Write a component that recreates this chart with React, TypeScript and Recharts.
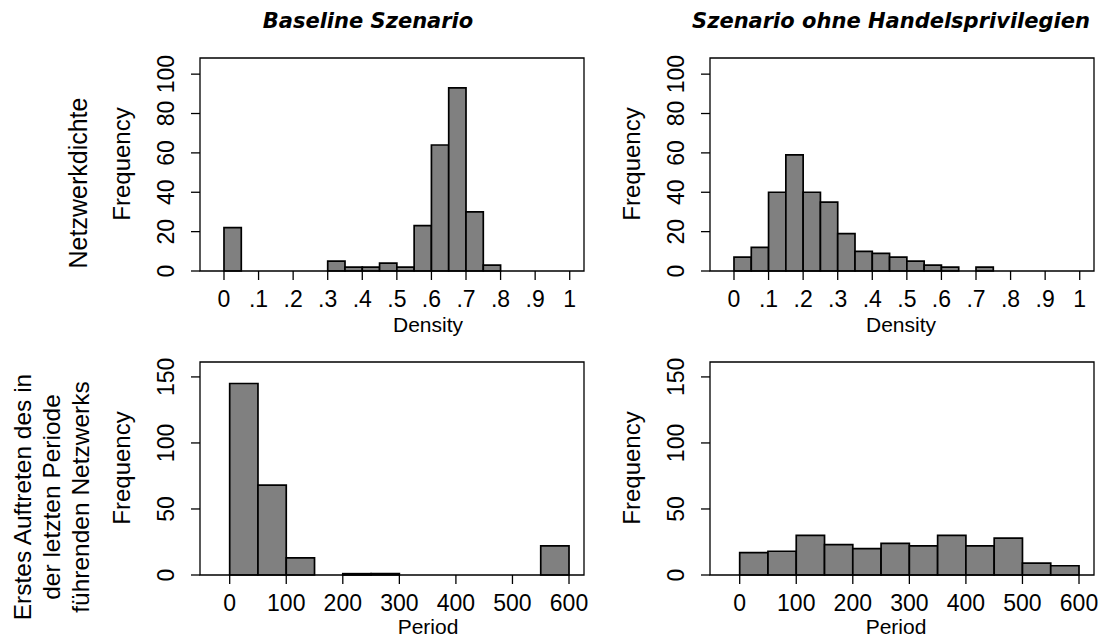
import React from "react";
import { ComposedChart, XAxis, YAxis, ReferenceArea } from "recharts";

// ---------- data ----------
const densityBinWidth = 0.05;
const periodBinWidth = 50;
const baselineDensityCounts = [22, 0, 0, 0, 0, 0, 5, 2, 2, 4, 2, 23, 64, 93, 30, 3];
const noPrivDensityCounts = [7, 12, 40, 59, 40, 35, 19, 10, 9, 7, 5, 3, 2, 0, 2];
const baselinePeriodCounts = [145, 68, 13, 0, 1, 1, 0, 0, 0, 0, 0, 22];
const noPrivPeriodCounts = [17, 18, 30, 23, 20, 24, 22, 30, 22, 28, 9, 7];

const densityTicks = [0, 0.1, 0.2, 0.3, 0.4, 0.5, 0.6, 0.7, 0.8, 0.9, 1];
const densityTickLabels = ["0", ".1", ".2", ".3", ".4", ".5", ".6", ".7", ".8", ".9", "1"];
const periodTicks = [0, 100, 200, 300, 400, 500, 600];
const periodTickLabels = ["0", "100", "200", "300", "400", "500", "600"];
const freqTicksTop = [0, 20, 40, 60, 80, 100];
const freqTicksBottom = [0, 50, 100, 150];

const densityDomain: [number, number] = [-0.0694, 1.0413];
const periodDomain: [number, number] = [-52.5, 626.5];
const freqDomainTop: [number, number] = [0, 108.2];
const freqDomainBottom: [number, number] = [0, 161.3];

const columnTitles = ["Baseline Szenario", "Szenario ohne Handelsprivilegien"];
const rowTitleTop = ["Netzwerkdichte"];
const rowTitleBottom = ["Erstes Auftreten des in", "der letzten Periode", "führenden Netzwerks"];
const xTitleTop = "Density";
const xTitleBottom = "Period";
const yTitle = "Frequency";

const makeBins = (counts: number[], w: number) =>
  counts.map((c, i) => ({ lo: i * w, hi: (i + 1) * w, mid: (i + 0.5) * w, count: c }));

const TICK_FONT = "'Liberation Sans Narrow', 'Liberation Sans', Arial, sans-serif";
const LABEL_FONT = "'Liberation Sans', Arial, sans-serif";

const PLOT_W = 384;
const PLOT_H = 213;
const ML = 70;
const MT = 10;
const MR = 8;
const MB = 60;

function makeXTick(ticks: number[], labels: string[]) {
  return (props: any) => {
    const { x, y, payload } = props;
    const idx = ticks.findIndex((t) => Math.abs(t - payload.value) < 1e-6);
    const label = idx >= 0 ? labels[idx] : String(payload.value);
    return (
      <text x={x} y={y + 25} textAnchor="middle" fontFamily={TICK_FONT} fontSize={23} fill="#000">
        {label}
      </text>
    );
  };
}

const YTick = (props: any) => {
  const { x, y, payload } = props;
  const bx = x - 15;
  return (
    <text
      x={bx}
      y={y}
      transform={`rotate(-90 ${bx} ${y})`}
      textAnchor="middle"
      fontFamily={TICK_FONT}
      fontSize={23}
      fill="#000"
    >
      {payload.value}
    </text>
  );
};

type PanelProps = {
  left: number;
  top: number;
  counts: number[];
  binWidth: number;
  xDomain: [number, number];
  xTicks: number[];
  xLabels: string[];
  yDomain: [number, number];
  yTicks: number[];
};

function HistPanel({ left, top, counts, binWidth, xDomain, xTicks, xLabels, yDomain, yTicks }: PanelProps) {
  const bins = makeBins(counts, binWidth);
  return (
    <div style={{ position: "absolute", left: left - ML, top: top - MT }}>
      <ComposedChart
        width={ML + PLOT_W + MR}
        height={MT + PLOT_H + MB}
        margin={{ top: MT, right: MR, bottom: 0, left: 0 }}
        data={bins}
      >
        <XAxis
          type="number"
          dataKey="mid"
          domain={xDomain}
          ticks={xTicks}
          interval={0}
          allowDataOverflow
          axisLine={false}
          tickLine={{ stroke: "#000", strokeWidth: 1.3 }}
          tickSize={9}
          tickMargin={2}
          height={MB}
          tick={makeXTick(xTicks, xLabels)}
        />
        <YAxis
          type="number"
          domain={yDomain}
          ticks={yTicks}
          interval={0}
          allowDataOverflow
          axisLine={false}
          tickLine={{ stroke: "#000", strokeWidth: 1.3 }}
          tickSize={9}
          tickMargin={2}
          width={ML}
          tick={<YTick />}
        />
        {bins
          .filter((b) => b.count > 0)
          .map((b, i) => (
            <ReferenceArea
              key={i}
              x1={b.lo}
              x2={b.hi}
              y1={0}
              y2={b.count}
              fill="#808080"
              fillOpacity={1}
              stroke="#000"
              strokeWidth={1.7}
              strokeOpacity={1}
              ifOverflow="visible"
            />
          ))}
        <ReferenceArea
          x1={xDomain[0]}
          x2={xDomain[1]}
          y1={yDomain[0]}
          y2={yDomain[1]}
          fill="none"
          fillOpacity={0}
          stroke="#000"
          strokeWidth={1.3}
          strokeOpacity={1}
          ifOverflow="visible"
        />
      </ComposedChart>
    </div>
  );
}

export default function App() {
  return (
    <div style={{ position: "absolute", left: 0, top: 0, width: 1101, height: 640, background: "#fff" }}>
      <HistPanel
        left={200}
        top={58}
        counts={baselineDensityCounts}
        binWidth={densityBinWidth}
        xDomain={densityDomain}
        xTicks={densityTicks}
        xLabels={densityTickLabels}
        yDomain={freqDomainTop}
        yTicks={freqTicksTop}
      />
      <HistPanel
        left={710}
        top={58}
        counts={noPrivDensityCounts}
        binWidth={densityBinWidth}
        xDomain={densityDomain}
        xTicks={densityTicks}
        xLabels={densityTickLabels}
        yDomain={freqDomainTop}
        yTicks={freqTicksTop}
      />
      <HistPanel
        left={200}
        top={362}
        counts={baselinePeriodCounts}
        binWidth={periodBinWidth}
        xDomain={periodDomain}
        xTicks={periodTicks}
        xLabels={periodTickLabels}
        yDomain={freqDomainBottom}
        yTicks={freqTicksBottom}
      />
      <HistPanel
        left={710}
        top={362}
        counts={noPrivPeriodCounts}
        binWidth={periodBinWidth}
        xDomain={periodDomain}
        xTicks={periodTicks}
        xLabels={periodTickLabels}
        yDomain={freqDomainBottom}
        yTicks={freqTicksBottom}
      />
      <svg
        width={1101}
        height={640}
        style={{ position: "absolute", left: 0, top: 0, pointerEvents: "none" }}
      >
        <g fontFamily="'DejaVu Sans', Verdana, sans-serif" fontWeight="bold" fontStyle="italic" fontSize={21} fill="#000">
          <text x={368} y={28} textAnchor="middle">{columnTitles[0]}</text>
          <text x={891} y={28} textAnchor="middle">{columnTitles[1]}</text>
        </g>
        <g fontFamily={LABEL_FONT} fill="#000">
          {rowTitleTop.map((t, i) => (
            <text key={i} x={87} y={183} transform={`rotate(-90 87 183)`} textAnchor="middle" fontSize={25}>
              {t}
            </text>
          ))}
          {rowTitleBottom.map((t, i) => {
            const bx = 31 + i * 29;
            return (
              <text key={i} x={bx} y={497} transform={`rotate(-90 ${bx} 497)`} textAnchor="middle" fontSize={24.5}>
                {t}
              </text>
            );
          })}
          {[
            [130, 164],
            [640, 164],
            [130, 468],
            [640, 468],
          ].map(([x, y], i) => (
            <text key={i} x={x} y={y} transform={`rotate(-90 ${x} ${y})`} textAnchor="middle" fontSize={24}>
              {yTitle}
            </text>
          ))}
          <text x={428} y={332} textAnchor="middle" fontSize={21}>{xTitleTop}</text>
          <text x={901} y={332} textAnchor="middle" fontSize={21}>{xTitleTop}</text>
          <text x={428} y={634} textAnchor="middle" fontSize={21}>{xTitleBottom}</text>
          <text x={896} y={634} textAnchor="middle" fontSize={21}>{xTitleBottom}</text>
        </g>
      </svg>
    </div>
  );
}
